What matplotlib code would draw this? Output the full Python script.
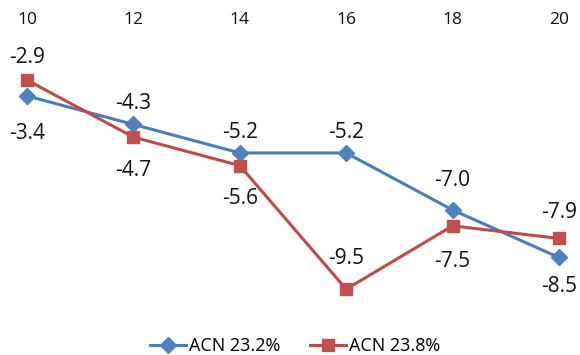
import matplotlib

matplotlib.use("Agg")
import matplotlib.pyplot as plt

plt.rcParams["font.family"] = ["Open Sans", "DejaVu Sans"]

x = [10, 12, 14, 16, 18, 20]
acn_232 = [-3.4, -4.3, -5.2, -5.2, -7.0, -8.5]
acn_238 = [-2.9, -4.7, -5.6, -9.5, -7.5, -7.9]
names = ["ACN 23.2%", "ACN 23.8%"]

# label offsets in points (positive = above the marker)
off_232 = [-27, 15, 15, 15, 21, -21]
off_238 = [16, -24, -24, 22, -26, 19]

fig = plt.figure(figsize=(5.8, 3.55), dpi=100)
ax = fig.add_axes([27 / 580, 0.1408, 532 / 580, 0.714])

blue_line, blue_mark = "#4A7EBB", "#4F81BD"
red_line, red_mark = "#BE4B48", "#C0504D"

ax.plot(x, acn_232, color=blue_line, lw=2.2, marker="D", ms=8,
        mfc=blue_mark, mec=blue_mark, clip_on=False, label=names[0], zorder=3)
ax.plot(x, acn_238, color=red_line, lw=2.2, marker="s", ms=9,
        mfc=red_mark, mec=red_mark, clip_on=False, label=names[1], zorder=3)

for xs, ys, offs in ((x, acn_232, off_232), (x, acn_238, off_238)):
    for xi, yi, dy in zip(xs, ys, offs):
        ax.annotate(f"{yi:.1f}", (xi, yi), xytext=(0, dy), textcoords="offset points",
                    ha="center", va="center", fontsize=15, color="#111111")

ax.set_xlim(10, 20)
ax.set_ylim(-10, -2)
ax.set_xticks(x)
ax.xaxis.tick_top()
ax.tick_params(axis="x", length=0, pad=17, labelsize=12.5, labelcolor="#111111")
ax.set_yticks([])
for s in ax.spines.values():
    s.set_visible(False)

fig.legend(loc="center", bbox_to_anchor=(295 / 580, 1 - 346 / 355), ncol=2,
           frameon=False, fontsize=13, handlelength=2.0, handletextpad=0.2,
           columnspacing=1.6)

fig.savefig("out.png", dpi=100)
